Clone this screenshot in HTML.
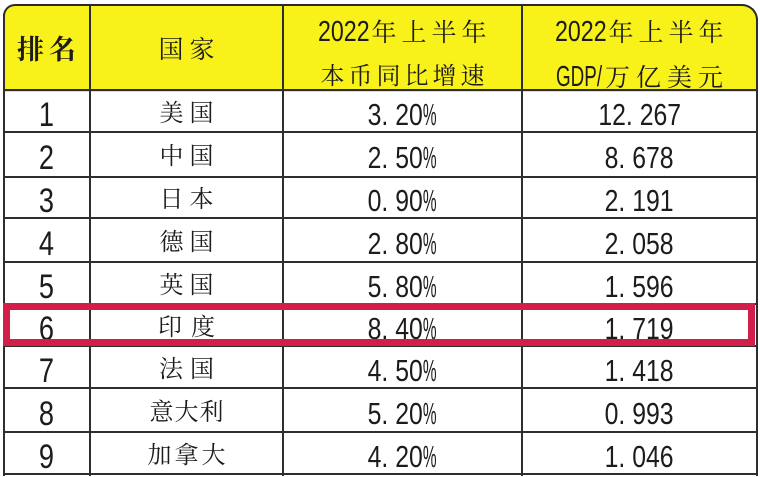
<!DOCTYPE html>
<html><head><meta charset="utf-8">
<style>
html,body{margin:0;padding:0;background:#fff;}
body{width:760px;height:476px;position:relative;overflow:hidden;color:#1c1c1c;}
.hdr{position:absolute;left:3px;top:4px;width:755px;height:88px;background:#f8f11a;border:2px solid #2b2b2b;border-bottom:none;border-radius:12px 16px 0 0;box-sizing:border-box;}
.h{position:absolute;left:3px;width:755px;height:2px;background:#2e2e2e;}
.v{position:absolute;top:5px;width:2px;height:471px;background:#2e2e2e;}
.t{position:absolute;height:40px;line-height:40px;text-align:center;white-space:nowrap;}
.num{font-family:"Liberation Sans",sans-serif;font-size:31px;}
.num i,.rk i{font-style:normal;display:inline-block;transform:scaleX(.8);transform-origin:50% 50%;}
.rk{font-family:"Liberation Sans",sans-serif;font-size:34px;}
b{display:inline-block;width:.556em;text-align:left;font-weight:normal;}
s{text-decoration:none;display:inline-block;width:.556em;transform:scaleX(.62);transform-origin:0 50%;}
.cn{font-family:"Liberation Serif","Noto Serif CJK SC",serif;font-size:24px;}
.n{display:inline-block;text-align:left;vertical-align:baseline;font-family:"Liberation Sans",sans-serif;font-size:29px;}
.n i{font-style:normal;display:inline-block;transform-origin:0 50%;}
.cj{font-family:"Liberation Serif","Noto Serif CJK SC",serif;}
.red{position:absolute;left:3px;top:303px;width:752px;height:43px;border:7px solid #d11f4a;box-sizing:border-box;}
</style></head><body>
<div class="hdr"></div>
<div class="h" style="top:89px"></div>
<div class="h" style="top:131px"></div>
<div class="h" style="top:176px"></div>
<div class="h" style="top:217px"></div>
<div class="h" style="top:261px"></div>
<div class="h" style="top:303px"></div>
<div class="h" style="top:345px"></div>
<div class="h" style="top:387px"></div>
<div class="h" style="top:431px"></div>
<div class="h" style="top:473px"></div>
<div class="v" style="left:3px;top:14px;height:462px"></div>
<div class="v" style="left:89px"></div>
<div class="v" style="left:282px"></div>
<div class="v" style="left:521px"></div>
<div class="v" style="left:756px;top:18px;height:458px"></div>

<div class="t cj" style="left:3px;width:87px;top:30px;font-size:27px;font-weight:700;letter-spacing:5px;text-indent:5px;">排名</div>
<div class="t cj" style="left:90px;width:193px;top:31px;font-size:25px;letter-spacing:6px;text-indent:6px;">国家</div>

<div class="t" style="left:283px;width:239px;top:12px;"><span class="n" style="width:53px"><i style="transform:scaleX(.8)">2022</i></span><span class="cj" style="font-size:25px;letter-spacing:5px;margin-right:-5px;">年上半年</span></div>
<div class="t cj" style="left:283px;width:239px;top:57px;font-size:24px;letter-spacing:4px;text-indent:4px;">本币同比增速</div>

<div class="t" style="left:522px;width:235px;top:12px;"><span class="n" style="width:53px"><i style="transform:scaleX(.8)">2022</i></span><span class="cj" style="font-size:25px;letter-spacing:5px;margin-right:-5px;">年上半年</span></div>
<div class="t" style="left:522px;width:235px;top:57px;"><span class="n" style="width:49px"><i style="transform:scaleX(.65)">GDP/</i></span><span class="cj" style="font-size:25px;letter-spacing:6px;margin-right:-6px;">万亿美元</span></div>

<div class="t rk" style="left:3px;width:87px;top:95px"><i>1</i></div>
<div class="t cn" style="left:90px;width:193px;top:94px;letter-spacing:6px;text-indent:6px">美国</div>
<div class="t num" style="left:283px;width:239px;top:95px"><i>3<b>.</b>20<s>%</s></i></div>
<div class="t num" style="left:522px;width:235px;top:95px"><i>12<b>.</b>267</i></div>

<div class="t rk" style="left:3px;width:87px;top:138px"><i>2</i></div>
<div class="t cn" style="left:90px;width:193px;top:137px;letter-spacing:6px;text-indent:6px">中国</div>
<div class="t num" style="left:283px;width:239px;top:138px"><i>2<b>.</b>50<s>%</s></i></div>
<div class="t num" style="left:522px;width:235px;top:138px"><i>8<b>.</b>678</i></div>

<div class="t rk" style="left:3px;width:87px;top:181px"><i>3</i></div>
<div class="t cn" style="left:90px;width:193px;top:180px;letter-spacing:6px;text-indent:6px">日本</div>
<div class="t num" style="left:283px;width:239px;top:181px"><i>0<b>.</b>90<s>%</s></i></div>
<div class="t num" style="left:522px;width:235px;top:181px"><i>2<b>.</b>191</i></div>

<div class="t rk" style="left:3px;width:87px;top:224px"><i>4</i></div>
<div class="t cn" style="left:90px;width:193px;top:223px;letter-spacing:6px;text-indent:6px">德国</div>
<div class="t num" style="left:283px;width:239px;top:224px"><i>2<b>.</b>80<s>%</s></i></div>
<div class="t num" style="left:522px;width:235px;top:224px"><i>2<b>.</b>058</i></div>

<div class="t rk" style="left:3px;width:87px;top:267px"><i>5</i></div>
<div class="t cn" style="left:90px;width:193px;top:266px;letter-spacing:6px;text-indent:6px">英国</div>
<div class="t num" style="left:283px;width:239px;top:267px"><i>5<b>.</b>80<s>%</s></i></div>
<div class="t num" style="left:522px;width:235px;top:267px"><i>1<b>.</b>596</i></div>

<div class="t rk" style="left:3px;width:87px;top:309px"><i>6</i></div>
<div class="t cn" style="left:90px;width:193px;top:308px;letter-spacing:9px;text-indent:9px">印度</div>
<div class="t num" style="left:283px;width:239px;top:309px"><i>8<b>.</b>40<s>%</s></i></div>
<div class="t num" style="left:522px;width:235px;top:309px"><i>1<b>.</b>719</i></div>

<div class="t rk" style="left:3px;width:87px;top:351px"><i>7</i></div>
<div class="t cn" style="left:90px;width:193px;top:350px;letter-spacing:7px;text-indent:7px">法国</div>
<div class="t num" style="left:283px;width:239px;top:351px"><i>4<b>.</b>50<s>%</s></i></div>
<div class="t num" style="left:522px;width:235px;top:351px"><i>1<b>.</b>418</i></div>

<div class="t rk" style="left:3px;width:87px;top:394px"><i>8</i></div>
<div class="t cn" style="left:90px;width:193px;top:393px;letter-spacing:1px;text-indent:1px">意大利</div>
<div class="t num" style="left:283px;width:239px;top:394px"><i>5<b>.</b>20<s>%</s></i></div>
<div class="t num" style="left:522px;width:235px;top:394px"><i>0<b>.</b>993</i></div>

<div class="t rk" style="left:3px;width:87px;top:437px"><i>9</i></div>
<div class="t cn" style="left:90px;width:193px;top:436px;letter-spacing:3px;text-indent:3px">加拿大</div>
<div class="t num" style="left:283px;width:239px;top:437px"><i>4<b>.</b>20<s>%</s></i></div>
<div class="t num" style="left:522px;width:235px;top:437px"><i>1<b>.</b>046</i></div>

<div class="red"></div>
</body></html>
